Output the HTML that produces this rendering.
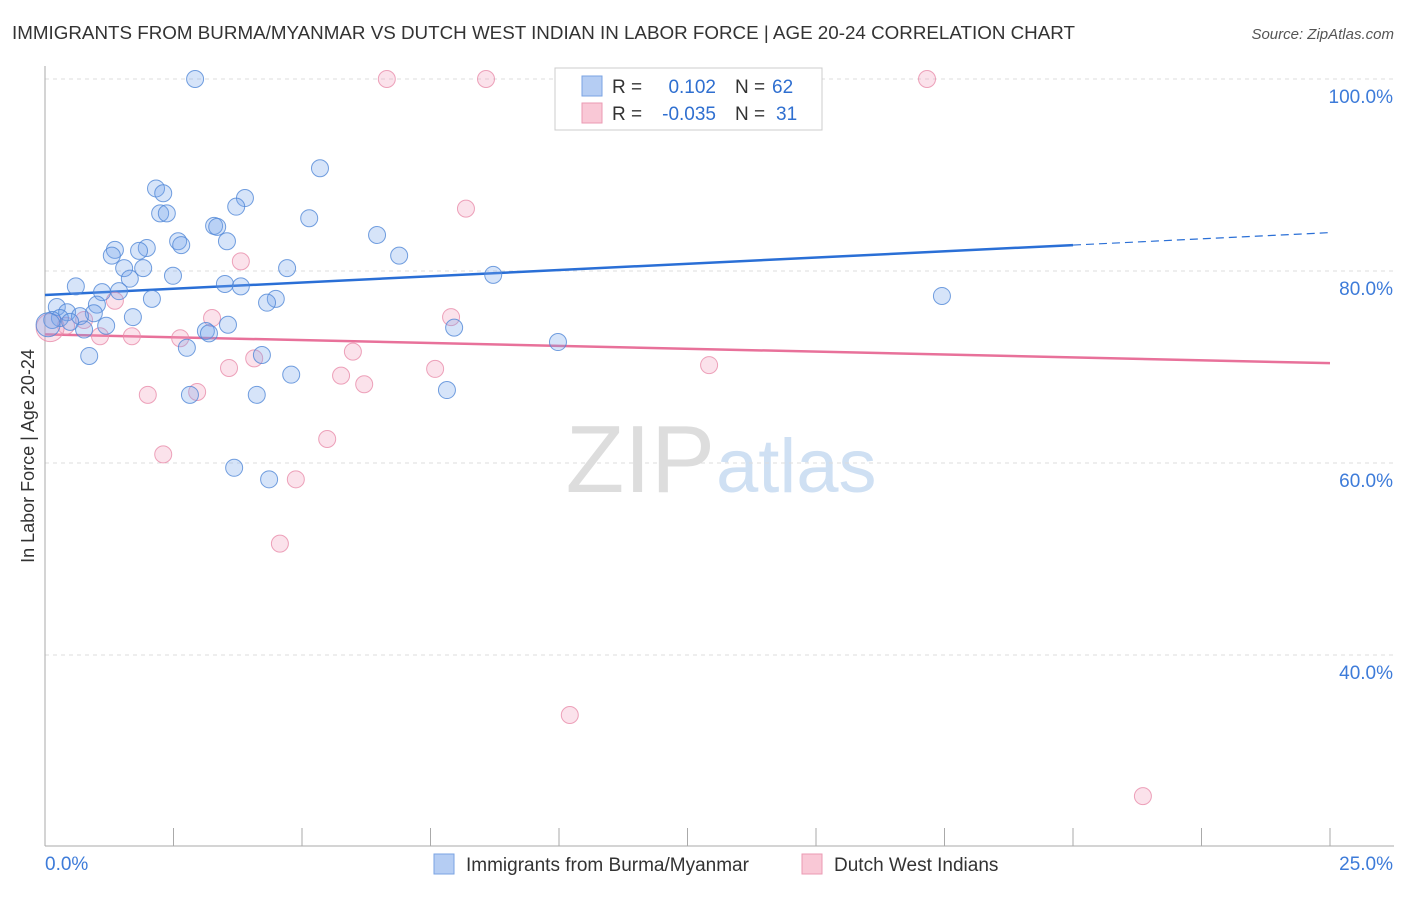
<!DOCTYPE html>
<html><head><meta charset="utf-8"><style>
body{margin:0;background:#fff;font-family:"Liberation Sans",sans-serif;}
svg text{font-family:"Liberation Sans",sans-serif;}
</style></head><body>
<svg id="chart" width="1406" height="892">
<text x="12" y="39" font-size="18.8" fill="#333" textLength="1063">IMMIGRANTS FROM BURMA/MYANMAR VS DUTCH WEST INDIAN IN LABOR FORCE | AGE 20-24 CORRELATION CHART</text>
<text x="1394" y="39" font-size="15" fill="#555" font-style="italic" text-anchor="end">Source: ZipAtlas.com</text>
<text x="715" y="492" font-size="96" fill="#ddd" text-anchor="end" font-family="Liberation Serif">ZIP</text>
<text x="716" y="492" font-size="76" fill="#cfe0f3">atlas</text>
<text transform="translate(34,456) rotate(-90)" font-size="18" fill="#333" text-anchor="middle">In Labor Force | Age 20-24</text>
<g id="grid"></g><g id="axes"></g><g id="lines"></g><g id="pts"></g>
<g>
<rect x="555" y="68" width="267" height="62" fill="#fff" stroke="#ccc"/>
<rect x="582" y="76" width="20" height="20" fill="#b5cdf3" stroke="#7aa3e3"/>
<rect x="582" y="103" width="20" height="20" fill="#f9c8d6" stroke="#eb9ab3"/>
<text x="612" y="93" font-size="19" fill="#333">R =</text>
<text x="716" y="93" font-size="19" fill="#2f6fd0" text-anchor="end">0.102</text>
<text x="735" y="93" font-size="19" fill="#333">N =</text><text x="772" y="93" font-size="19" fill="#2f6fd0">62</text>
<text x="612" y="120" font-size="19" fill="#333">R =</text>
<text x="716" y="120" font-size="19" fill="#2f6fd0" text-anchor="end">-0.035</text>
<text x="735" y="120" font-size="19" fill="#333">N =</text><text x="776" y="120" font-size="19" fill="#2f6fd0">31</text>
</g>
<g>
<rect x="434" y="854" width="20" height="20" fill="#b5cdf3" stroke="#7aa3e3"/>
<text x="466" y="871" font-size="19" fill="#333">Immigrants from Burma/Myanmar</text>
<rect x="802" y="854" width="20" height="20" fill="#f9c8d6" stroke="#eb9ab3"/>
<text x="834" y="871" font-size="19" fill="#333">Dutch West Indians</text>
</g>
</svg>
<script>
const blueX=[2.92,12.2,5.35,2.16,2.30,3.89,3.72,2.24,2.37,5.14,3.29,3.35,6.46,2.59,3.54,2.65,1.36,1.98,1.83,1.30,6.89,1.54,1.91,4.71,2.49,8.72,1.65,3.50,3.81,0.60,1.44,1.11,17.45,2.08,4.49,4.32,0.23,1.01,1.71,0.43,0.95,0.68,0.29,0.49,0.14,1.19,3.56,0.76,7.96,3.13,3.19,9.98,2.76,4.22,0.86,4.79,7.82,2.82,4.12,3.68,4.36,0.06];
const blueY=[100,100,90.7,88.6,88.1,87.6,86.7,86.0,86.0,85.5,84.7,84.6,83.75,83.1,83.1,82.7,82.2,82.4,82.1,81.6,81.6,80.3,80.3,80.3,79.5,79.6,79.2,78.65,78.4,78.4,77.9,77.8,77.4,77.1,77.1,76.7,76.25,76.5,75.2,75.7,75.6,75.3,75.1,74.7,74.9,74.3,74.4,73.9,74.1,73.75,73.5,72.6,72.0,71.25,71.15,69.2,67.6,67.1,67.1,59.5,58.3,74.4];
const pinkX=[6.65,8.58,13.42,17.16,8.19,3.81,1.36,7.90,3.25,0.76,0.41,1.07,1.69,2.63,5.99,4.07,3.58,7.59,12.92,5.76,6.21,2.96,2.00,5.49,2.30,4.88,4.57,10.21,21.36,0.10];
const pinkY=[100,100,100,100,86.5,81.0,76.9,75.2,75.1,74.9,74.3,73.2,73.2,73.0,71.6,70.9,69.9,69.8,70.2,69.1,68.2,67.4,67.1,62.5,60.9,58.3,51.6,33.75,25.3,74.1];
const yTicks=[100,80,60,40];
const yTickLabels=["100.0%","80.0%","60.0%","40.0%"];
const xTickLabels=["0.0%","25.0%"];
const blueTrend=[77.5,84.0]; const pinkTrend=[73.4,70.4];
const NS="http://www.w3.org/2000/svg";
const X=v=>45+v/25*1285, Y=v=>79+(100-v)*9.6;
function mk(p,t,a){const e=document.createElementNS(NS,t);for(const k in a)e.setAttribute(k,a[k]);document.getElementById(p).appendChild(e);return e;}
yTicks.forEach((v,i)=>{
 const l=mk('grid','line',{x1:45,x2:1394,y1:Y(v),y2:Y(v),stroke:'#ddd','stroke-dasharray':'4,4'});
 
 
 const t=mk('grid','text',{x:1393,y:Y(v)+24,'font-size':19,fill:'#3d7bd9','text-anchor':'end'});t.textContent=yTickLabels[i];
 
 
});
mk('axes','line',{x1:45,x2:45,y1:66,y2:846,stroke:'#aaa'});
mk('axes','line',{x1:45,x2:1394,y1:846,y2:846,stroke:'#aaa'});
for(let i=1;i<=10;i++)mk('axes','line',{x1:X(i*2.5),x2:X(i*2.5),y1:828,y2:846,stroke:'#aaa'});
const t0=mk('axes','text',{x:45,y:870,'font-size':19,fill:'#3d7bd9'});t0.textContent=xTickLabels[0];


const t1=mk('axes','text',{x:1393,y:870,'font-size':19,fill:'#3d7bd9','text-anchor':'end'});t1.textContent=xTickLabels[1];


const bAt=v=>blueTrend[0]+(blueTrend[1]-blueTrend[0])*v/25;
const b1=mk('lines','line',{x1:X(0),y1:Y(bAt(0)),x2:X(20),y2:Y(bAt(20)),stroke:'#2a6fd6','stroke-width':2.5});


mk('lines','line',{x1:X(20),y1:Y(bAt(20)),x2:X(25),y2:Y(bAt(25)),stroke:'#2a6fd6','stroke-width':1.2,'stroke-dasharray':'8,5'});
const p1=mk('lines','line',{x1:X(0),y1:Y(pinkTrend[0]),x2:X(25),y2:Y(pinkTrend[1]),stroke:'#e8719a','stroke-width':2.5});


pinkX.forEach((v,i)=>{const big=i==pinkX.length-1;
 const c=mk('pts','circle',{cx:X(v),cy:Y(pinkY[i]),r:big?14:8.5,fill:'rgba(243,160,188,0.3)',stroke:'rgba(232,140,170,0.8)','stroke-width':1});
 
 });
blueX.forEach((v,i)=>{const big=i==blueX.length-1;
 const c=mk('pts','circle',{cx:X(v),cy:Y(blueY[i]),r:big?12:8.5,fill:'rgba(120,165,235,0.3)',stroke:'rgba(80,135,215,0.8)','stroke-width':1});
 
 });
</script>
</body></html>
